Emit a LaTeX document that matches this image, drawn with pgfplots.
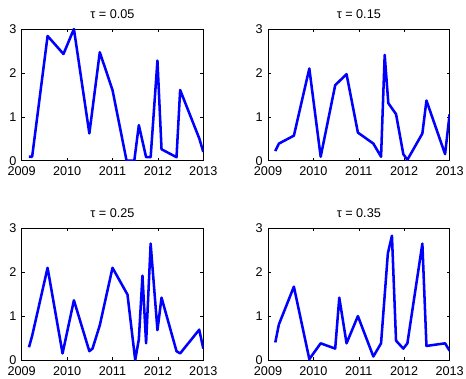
\documentclass[border=0pt]{standalone}
\usepackage{fontspec}
\setmainfont{Liberation Sans}
\usepackage{pgfplots}
\pgfplotsset{compat=1.18}
\definecolor{mblue}{RGB}{0,0,255}
\pgfplotsset{panel/.style={
  scale only axis, width=136.2pt, height=98.8pt,
  xmin=2009, xmax=2013, ymin=0, ymax=3,
  xtick={2009,2010,2011,2012,2013}, ytick={0,1,2,3},
  xticklabel style={/pgf/number format/1000 sep={}, yshift=-1.2pt},
  yticklabel style={xshift=-0.5pt},
  /pgf/number format/assume math mode=true,
  tick align=inside, major tick length=2.2pt,
  tick style={black, line width=0.4pt},
  axis line style={line width=0.5pt},
  ticklabel style={font=\fontsize{9.5}{11}\selectfont},
  title style={font=\fontsize{9.5}{11}\selectfont, yshift=-1.5pt},
  anchor=south west,
  every axis plot/.append style={mblue, line width=1.9pt, line join=round, no markers},
}}
\begin{document}
\begin{tikzpicture}
\path[use as bounding box] (0,0) rectangle (349.5pt,283.5pt);
\begin{axis}[panel, at={(16.275pt,162.975pt)}, title={τ = 0.05}]
\addplot coordinates {(2009.16,0.09)(2009.23,0.09)(2009.57,2.84)(2009.92,2.43)(2010.15,3.0)(2010.49,0.62)(2010.72,2.47)(2011.0,1.61)(2011.31,0)(2011.48,0)(2011.58,0.81)(2011.74,0.08)(2011.84,0.08)(2011.99,2.28)(2012.08,0.26)(2012.41,0.08)(2012.49,1.61)(2012.91,0.51)(2013.0,0.2)};
\end{axis}
\begin{axis}[panel, at={(201pt,162.975pt)}, title={τ = 0.15}]
\addplot coordinates {(2009.16,0.22)(2009.24,0.39)(2009.57,0.57)(2009.91,2.10)(2010.16,0.09)(2010.48,1.72)(2010.73,1.97)(2010.98,0.64)(2011.32,0.39)(2011.49,0.09)(2011.57,2.41)(2011.65,1.31)(2011.82,1.06)(2011.98,0.15)(2012.07,0.02)(2012.40,0.62)(2012.49,1.37)(2012.90,0.15)(2013.0,1.06)};
\end{axis}
\begin{axis}[panel, at={(16.275pt,13.5pt)}, title={τ = 0.25}]
\addplot coordinates {(2009.16,0.29)(2009.23,0.55)(2009.57,2.10)(2009.90,0.15)(2010.15,1.36)(2010.49,0.20)(2010.56,0.26)(2010.72,0.79)(2011.0,2.10)(2011.33,1.49)(2011.50,0)(2011.58,0.47)(2011.66,1.92)(2011.74,0.38)(2011.84,2.65)(2011.99,0.68)(2012.08,1.42)(2012.41,0.20)(2012.49,0.15)(2012.91,0.69)(2013,0.26)};
\end{axis}
\begin{axis}[panel, at={(201pt,13.5pt)}, title={τ = 0.35}]
\addplot coordinates {(2009.16,0.40)(2009.24,0.81)(2009.57,1.67)(2009.91,0.02)(2010.16,0.38)(2010.48,0.26)(2010.57,1.42)(2010.73,0.38)(2010.98,1.00)(2011.32,0.08)(2011.49,0.38)(2011.64,2.43)(2011.73,2.83)(2011.82,0.44)(2011.98,0.26)(2012.07,0.38)(2012.40,2.65)(2012.49,0.32)(2012.90,0.38)(2013,0.21)};
\end{axis}
\end{tikzpicture}
\end{document}
